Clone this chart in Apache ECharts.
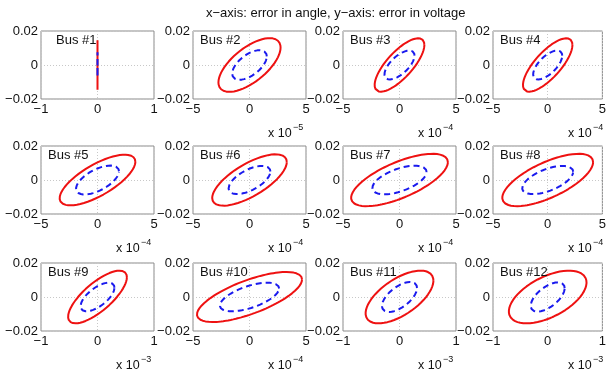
<!DOCTYPE html>
<html>
<head>
<meta charset="utf-8">
<script src="https://cdn.jsdelivr.net/npm/echarts@6/dist/echarts.min.js"></script>
<style>
  html, body { margin: 0; padding: 0; background: #fff; }
  #chart { width: 609px; height: 373px; }
</style>
</head>
<body>
<div id="chart"></div>
<script>
// error ellipses per bus: half-extent in x (angle), y (voltage), correlation
const busNames = ["Bus #1", "Bus #2", "Bus #3", "Bus #4", "Bus #5", "Bus #6",
  "Bus #7", "Bus #8", "Bus #9", "Bus #10", "Bus #11", "Bus #12"];
const xLimit = [1, 5e-5, 5e-4, 5e-4, 5e-4, 5e-4, 5e-4, 5e-4, 1e-3, 5e-4, 1e-3, 1e-3];
const xExponent = [0, -5, -4, -4, -4, -4, -4, -4, -3, -4, -3, -3];
const yTicks = [-0.02, 0, 0.02];

const outerXHalf = [0, 2.75e-5, 2.2e-4, 2.26e-4, 3.35e-4, 3.3e-4, 4.28e-4, 4.15e-4, 5.2e-4, 4.65e-4, 6.0e-4, 7.1e-4];
const outerYHalf = [0.0159, 0.0158, 0.0157, 0.0157, 0.0149, 0.0151, 0.0154, 0.0154, 0.0155, 0.0147, 0.0155, 0.0155];
const outerRho = [0, 0.65, 0.75, 0.75, 0.72, 0.7, 0.68, 0.68, 0.75, 0.7, 0.62, 0.55];

const innerXHalf = [0, 1.53e-5, 1.33e-4, 1.33e-4, 1.9e-4, 1.85e-4, 2.4e-4, 2.33e-4, 3.0e-4, 2.62e-4, 3.1e-4, 3.1e-4];
const innerYHalf = [0.008, 0.0087, 0.0085, 0.0085, 0.0085, 0.0083, 0.0084, 0.0083, 0.0084, 0.0084, 0.0088, 0.0086];
const innerRho = [0, 0.58, 0.65, 0.65, 0.6, 0.6, 0.56, 0.58, 0.65, 0.6, 0.6, 0.6];

const colLeft = [41, 193, 343, 493];
const rowTop = [31, 146, 263];
const boxW = 113;
const boxH = 68;
const font = "'Liberation Sans', Arial, Helvetica, sans-serif";

function ellipse(xh, yh, rho) {
  const pts = [];
  const s = Math.sqrt(1 - rho * rho);
  for (let i = 0; i <= 120; i++) {
    const t = (i / 120) * 2 * Math.PI;
    pts.push([xh * Math.cos(t), yh * (rho * Math.cos(t) + s * Math.sin(t))]);
  }
  return pts;
}

function minus(str) {
  return str.replace("-", "\u2212");
}

const grid = [], xAxis = [], yAxis = [], series = [], graphic = [];

busNames.forEach((name, i) => {
  const left = colLeft[i % 4];
  const top = rowTop[Math.floor(i / 4)];
  const lim = xLimit[i];
  const scale = Math.pow(10, xExponent[i]);

  grid.push({
    left, top, width: boxW, height: boxH,
    show: true, borderColor: "#8a8a8a", borderWidth: 1,
    backgroundColor: "#fff",
  });
  xAxis.push({
    gridIndex: i, type: "value", min: -lim, max: lim, interval: lim,
    axisLine: { show: false },
    axisTick: { show: false },
    splitLine: { show: true, lineStyle: { color: "#c8c8c8", type: [1, 2], width: 1 } },
    axisLabel: {
      color: "#111", fontSize: 13, fontFamily: font, margin: 4,
      showMinLabel: true, showMaxLabel: true,
      formatter: (v) => minus(String(Math.round(v / scale))),
    },
  });
  yAxis.push({
    gridIndex: i, type: "value", min: yTicks[0], max: yTicks[2], interval: 0.02,
    axisLine: { show: false },
    axisTick: { show: false },
    splitLine: { show: true, lineStyle: { color: "#c8c8c8", type: [1, 2], width: 1 } },
    axisLabel: {
      color: "#111", fontSize: 13, fontFamily: font, margin: 3,
      showMinLabel: true, showMaxLabel: true,
      formatter: (v) => (v === 0 ? "0" : minus(v.toFixed(2))),
    },
  });
  series.push({
    type: "line", xAxisIndex: i, yAxisIndex: i, showSymbol: false, silent: true,
    clip: false, animation: false,
    lineStyle: { color: "#ee1111", width: 2 },
    data: ellipse(outerXHalf[i], outerYHalf[i], outerRho[i]),
  });
  series.push({
    type: "line", xAxisIndex: i, yAxisIndex: i, showSymbol: false, silent: true,
    clip: false, animation: false,
    lineStyle: { color: "#1a1aee", width: 2, type: [6, 4] },
    data: ellipse(innerXHalf[i], innerYHalf[i], innerRho[i]),
  });

  graphic.push({
    type: "text", left: left + (i === 0 ? 15 : 7), top: top + 3, z: 100,
    style: { text: name, fill: "#111", font: "13px " + font },
  });
  if (xExponent[i] !== 0) {
    graphic.push({
      type: "group", left: left + boxW - 38, top: top + boxH + 24, z: 100,
      children: [
        { type: "text", x: 0, y: 3, style: { text: "x 10", fill: "#111", font: "12.5px " + font } },
        { type: "text", x: 25, y: -1, style: { text: minus(String(xExponent[i])), fill: "#111", font: "9px " + font } },
      ],
    });
  }
});

graphic.push({
  type: "text", left: 206, top: 7, z: 100,
  style: { text: "x\u2212axis: error in angle, y\u2212axis: error in voltage", fill: "#111", font: "13px " + font },
});

const chart = echarts.init(document.getElementById("chart"), null, { renderer: "canvas" });
chart.setOption({
  animation: false,
  backgroundColor: "#fff",
  grid, xAxis, yAxis, series, graphic,
});
</script>
</body>
</html>
